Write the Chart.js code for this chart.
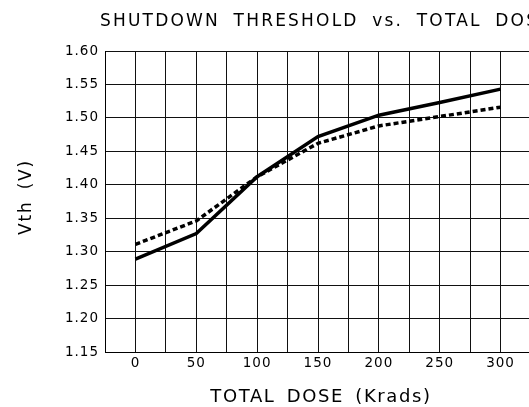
<!DOCTYPE html>
<html>
<head>
<meta charset="utf-8">
<script src="https://cdn.jsdelivr.net/npm/chart.js@4"></script>
<style>
  html, body { margin: 0; padding: 0; background: #fff; overflow: hidden; }
  #wrap { width: 529px; height: 407px; overflow: hidden; position: relative; }
  #chart { position: absolute; left: 0; top: 0; }
</style>
</head>
<body>
<div id="wrap"><canvas id="chart" width="560" height="407"></canvas></div>
<script>
// values
const dose = [0, 50, 100, 150, 200, 250, 300];
const vthSolid = [1.289, 1.327, 1.412, 1.472, 1.504, 1.523, 1.543];
const vthDashed = [1.311, 1.346, 1.412, 1.462, 1.488, 1.502, 1.516];
const xTickLabels = [0, 50, 100, 150, 200, 250, 300];

const chartTitle = "SHUTDOWN THRESHOLD vs. TOTAL DOSE";
const xTitle = "TOTAL DOSE (Krads)";
const yTitle = "Vth (V)";

const canvas = document.getElementById("chart");
canvas.style.width = "560px";
canvas.style.height = "407px";

const toPoints = ys => dose.map((d, i) => ({ x: d, y: ys[i] }));

// wider letter spacing for the tick labels, like the plotter lettering
const spacingPlugin = {
  id: "spacing",
  beforeDraw(chart) { chart.ctx.letterSpacing = "1px"; },
  afterDraw(chart) { chart.ctx.letterSpacing = "0px"; }
};

// titles drawn by hand so the letter spacing can match the CAD-style lettering
const textPlugin = {
  id: "texts",
  afterDraw(chart) {
    const ctx = chart.ctx;
    ctx.save();
    ctx.fillStyle = "#000";
    ctx.textBaseline = "alphabetic";

    ctx.font = "17px 'DejaVu Sans'";
    ctx.letterSpacing = "2.2px";
    ctx.wordSpacing = "6px";
    ctx.textAlign = "left";
    ctx.fillText(chartTitle, 100, 26);

    ctx.font = "18px 'DejaVu Sans'";
    ctx.letterSpacing = "1.6px";
    ctx.wordSpacing = "4px";
    ctx.textAlign = "center";
    ctx.fillText(xTitle, 321, 402);

    ctx.font = "17px 'DejaVu Sans'";
    ctx.letterSpacing = "1.8px";
    ctx.translate(31, 197);
    ctx.rotate(-Math.PI / 2);
    ctx.fillText(yTitle, 0, 0);
    ctx.restore();
  }
};

new Chart(canvas, {
  type: "line",
  data: {
    datasets: [
      {
        label: "solid",
        data: toPoints(vthSolid),
        borderColor: "#000",
        borderWidth: 3.5,
        pointRadius: 0,
        tension: 0
      },
      {
        label: "dashed",
        data: toPoints(vthDashed),
        borderColor: "#000",
        borderWidth: 3.5,
        borderDash: [5, 3],
        pointRadius: 0,
        tension: 0
      }
    ]
  },
  options: {
    responsive: false,
    animation: false,
    layout: { padding: { left: 0, top: 51, right: 29, bottom: 0 } },
    plugins: { legend: { display: false }, tooltip: { enabled: false } },
    scales: {
      x: {
        type: "linear",
        min: -25,
        max: 325,
        afterFit: s => { s.height = 55; },
        afterBuildTicks: s => {
          const t = [];
          for (let v = -25; v <= 325; v += 25) t.push({ value: v });
          s.ticks = t;
        },
        ticks: {
          autoSkip: false,
          maxRotation: 0,
          padding: 3,
          color: "#000",
          font: { family: "'DejaVu Sans'", size: 13.5 },
          callback: v => (xTickLabels.includes(v) ? String(v) : "")
        },
        grid: { color: "#111", lineWidth: 1, drawTicks: false },
        border: { color: "#000", width: 1 }
      },
      y: {
        min: 1.15,
        max: 1.6,
        afterFit: s => { s.width = 105; },
        ticks: {
          stepSize: 0.05,
          padding: 6,
          color: "#000",
          font: { family: "'DejaVu Sans'", size: 13.5 },
          callback: v => v.toFixed(2)
        },
        grid: { color: "#111", lineWidth: 1, drawTicks: false },
        border: { color: "#000", width: 1 }
      }
    }
  },
  plugins: [spacingPlugin, textPlugin]
});
</script>
</body>
</html>
